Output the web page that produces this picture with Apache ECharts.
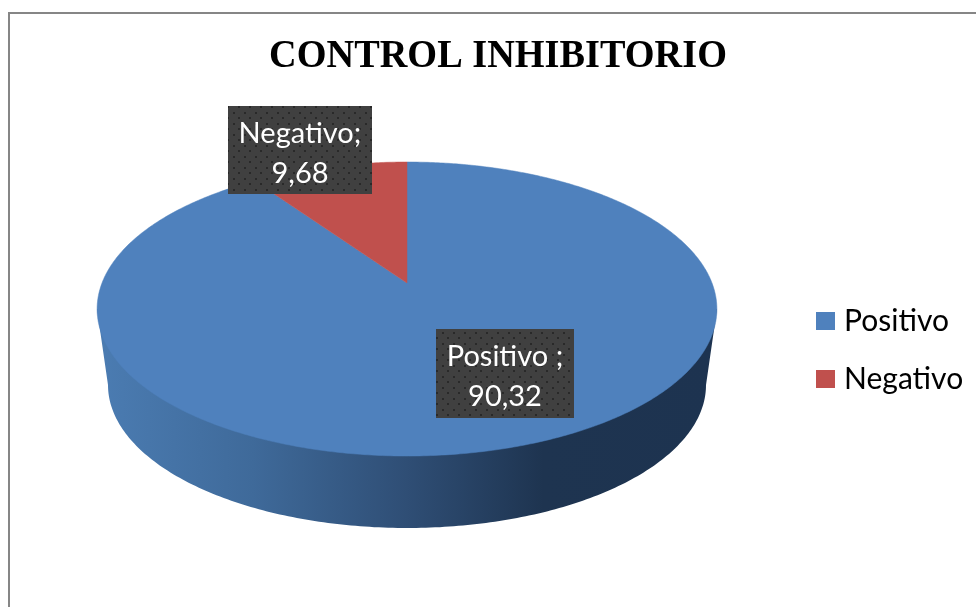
<!DOCTYPE html>
<html><head><meta charset="utf-8">
<style>html,body{margin:0;padding:0;background:#fff}#c{width:976px;height:607px}</style>
<script src="https://cdn.jsdelivr.net/npm/echarts@6/dist/echarts.min.js"></script>
</head><body><div id="c"></div>
<script>
var categories = ['Positivo', 'Negativo'];
var values = [90.32, 9.68];
var labelNames = ['Positivo ;', 'Negativo;'];
var labelValues = ['90,32', '9,68'];
var colors = ['#4F81BD', '#C0504D'];
var titleText = 'CONTROL INHIBITORIO';

var total = values.reduce(function (a, b) { return a + b; }, 0);
var CX = 407, AY = 283, PC = 0.177, PA = 142.4, PS = 305;
function rim(th) {
  var d = 1 + PC * Math.cos(th);
  return [CX + PS * Math.sin(th) / d, AY - PA * Math.cos(th) / d];
}
function sector(a0, a1) {
  var pts = [[CX, AY]], n = Math.max(4, Math.ceil((a1 - a0) / 0.01));
  for (var i = 0; i <= n; i++) pts.push(rim(a0 + (a1 - a0) * i / n));
  return pts;
}
function wall() {
  var pts = [], BCY = 385, BRX = 299, BRY = 143, i, t;
  pts.push([97, 309]);
  for (i = 0; i <= 200; i++) {
    t = Math.PI * i / 200;
    pts.push([CX - BRX * Math.cos(t), BCY + BRY * Math.sin(t)]);
  }
  pts.push([717, 309]);
  return pts;
}
var tile = document.createElement('canvas');
tile.width = 11; tile.height = 11;
(function () {
  var g = tile.getContext('2d');
  g.fillStyle = '#404040'; g.fillRect(0, 0, 11, 11);
  g.fillStyle = '#292929';
  g.fillRect(2, 2, 2, 2); g.fillRect(7, 7, 2, 2);
})();
var labelBoxes = [
  { x: 436, y: 329, w: 138, h: 89 },
  { x: 228, y: 106, w: 144, h: 88 }
];
function startAngle(i) {
  var s = 0;
  for (var k = 0; k < i; k++) s += values[k];
  return s / total * Math.PI * 2;
}
function renderSlice(idx) {
  return function (params, api) {
    var a0 = startAngle(idx), a1 = a0 + api.value(0) / total * Math.PI * 2;
    var children = [];
    if (idx === 0) {
      children.push({
        type: 'polygon', shape: { points: wall() },
        style: { fill: new echarts.graphic.LinearGradient(0, 0, 1, 0, [
          { offset: 0, color: '#4B7CB2' },
          { offset: 0.25, color: '#3F6A9A' },
          { offset: 0.5, color: '#2F4E75' },
          { offset: 0.72, color: '#1E3450' },
          { offset: 1, color: '#1D3350' }
        ]) }
      });
    }
    children.push({
      type: 'polygon', shape: { points: sector(a0, a1) },
      style: { fill: colors[idx], stroke: colors[idx], lineWidth: 0.5 }
    });
    return { type: 'group', children: children };
  };
}
function renderLabel(idx) {
  var b = labelBoxes[idx];
  return {
    type: 'group', z2: 50,
    children: [
      { type: 'rect', z2: 50, shape: { x: b.x, y: b.y, width: b.w, height: b.h },
        style: { fill: { type: 'pattern', image: tile, repeat: 'repeat' } } },
      { type: 'text', z2: 51, style: { text: labelNames[idx], x: b.x + b.w / 2, y: b.y + 28,
        align: 'center', verticalAlign: 'middle', fill: '#fff', font: '29px Lato' } },
      { type: 'text', z2: 51, style: { text: labelValues[idx], x: b.x + b.w / 2, y: b.y + 68,
        align: 'center', verticalAlign: 'middle', fill: '#fff', font: '29px Lato' } }
    ]
  };
}
var series = categories.map(function (name, i) {
  return {
    name: name, type: 'custom', coordinateSystem: 'none', z: 2,
    itemStyle: { color: colors[i] }, silent: true, animation: false,
    data: [[values[i]]],
    encode: { value: 0 },
    renderItem: renderSlice(i)
  };
});
series.push({
  type: 'custom', coordinateSystem: 'none', z: 5, silent: true, animation: false,
  data: categories.map(function (c, i) { return [values[i]]; }),
  renderItem: function (params) { return renderLabel(params.dataIndex); }
});
var chart = echarts.init(document.getElementById('c'), null, { renderer: 'canvas' });
chart.setOption({
  animation: false,
  backgroundColor: '#fff',
  legend: {
    orient: 'vertical', left: 816, top: 306, icon: 'rect', padding: 0,
    itemWidth: 19, itemHeight: 18, itemGap: 28, data: categories,
    selectedMode: false,
    textStyle: { fontFamily: 'Lato', fontSize: 30, lineHeight: 18, color: '#000', padding: [0, 0, 0, 4] }
  },
  graphic: [
    { type: 'rect', z: 0, silent: true,
      shape: { x: 9, y: 13, width: 1000, height: 700 },
      style: { fill: 'none', stroke: '#868686', lineWidth: 2 } },
    { type: 'text', z: 10, silent: true, x: 498, y: 56, scaleX: 0.934, originX: 0, originY: 0,
      style: { text: titleText, align: 'center', verticalAlign: 'middle', fill: '#000',
        font: 'bold 41px "Liberation Serif"' } }
  ],
  series: series
});
</script></body></html>
